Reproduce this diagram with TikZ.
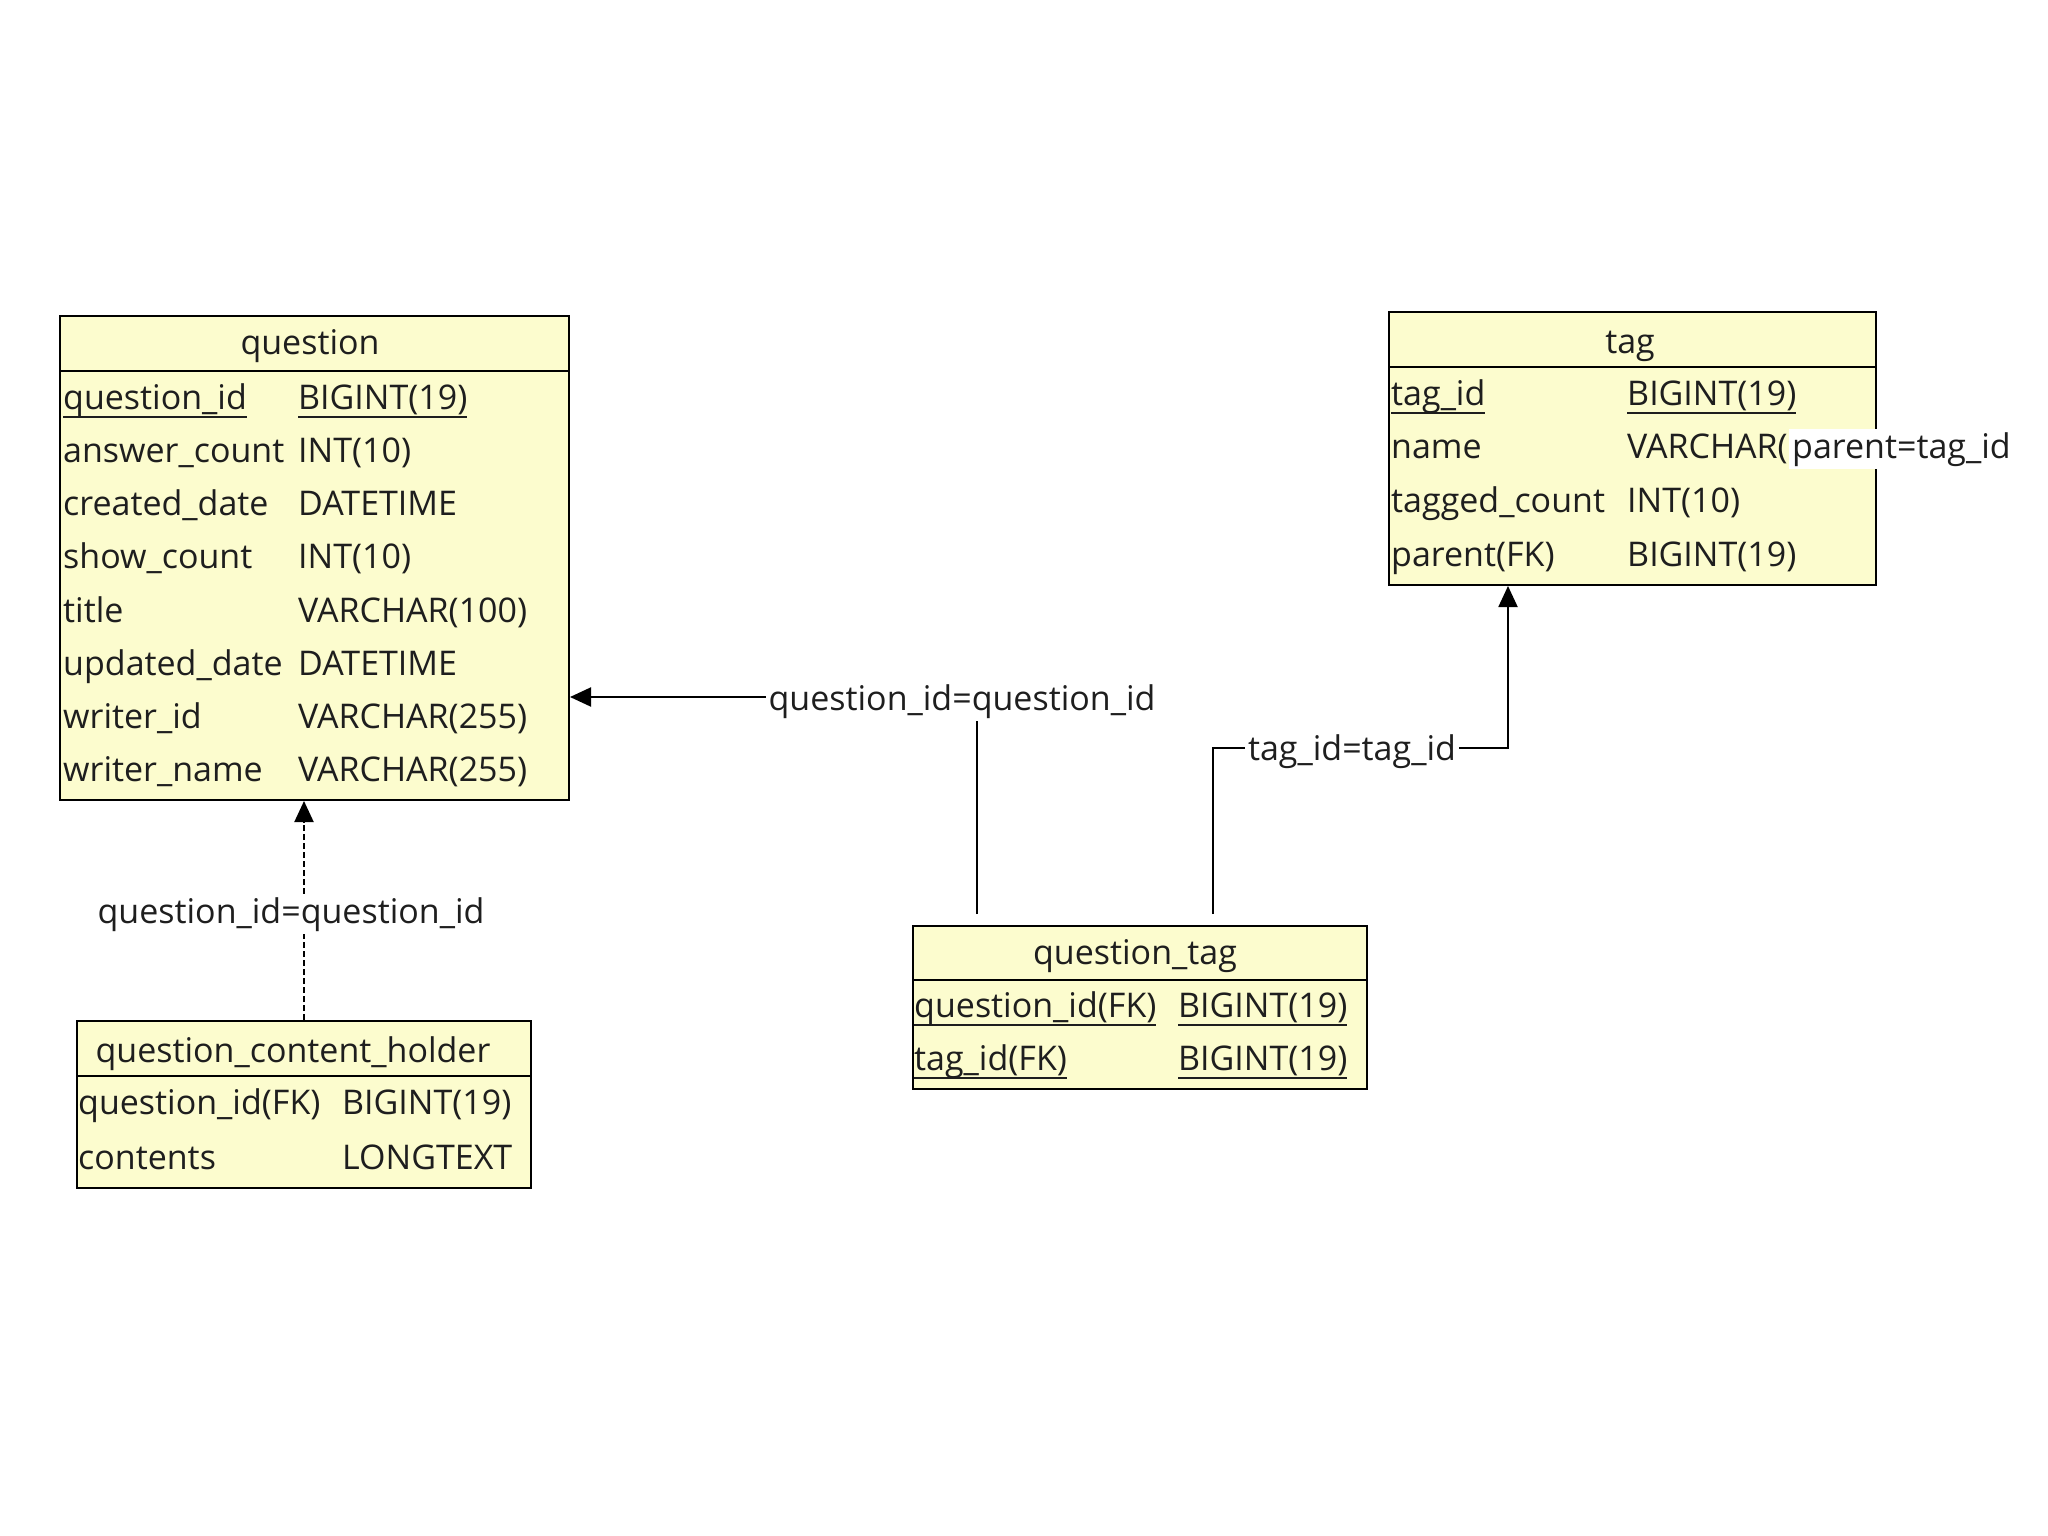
\documentclass[tikz,border=0pt]{standalone}
\usepackage{fontspec}
\setmainfont{Open Sans}
\usetikzlibrary{arrows.meta}
\definecolor{tblfill}{RGB}{252,252,206}
\definecolor{ink}{RGB}{30,30,30}
\newcommand\ulin[1]{\setbox0\hbox{#1}\rlap{\vrule height -7pt depth 9pt width \wd0}\box0}
\tikzset{
  tbl/.style={draw=black, line width=2pt, fill=tblfill, inner sep=0pt, anchor=north west},
  fld/.style={font=\fontsize{34}{40}\selectfont, text=ink, inner sep=0pt, anchor=base west},
  ttl/.style={fld, anchor=base},
  sepline/.style={line width=2pt},
  rel/.style={line width=2pt, -{Triangle[length=21pt,width=19pt]}},
  rlab/.style={fld, fill=white, inner sep=3pt, anchor=base},
}
\begin{document}
\begin{tikzpicture}[x=1pt,y=-1pt]
\fill[white] (0,0) rectangle (2048,1536);
\useasboundingbox (0,0) rectangle (2048,1536);

% question
\node[tbl, minimum width=509pt, minimum height=484pt] (question) at (59,315) {};
\draw[sepline] ([yshift=-56pt]question.north west) -- ([yshift=-56pt]question.north east);
\node[ttl] (question-title) at (310,354) {question};
\node[fld] (q-n1) at (63,409) {\ulin{question\_id}};
\node[fld] (q-t1) at (298,409) {\ulin{BIGINT(19)}};
\node[fld] (q-n2) at (63,462) {answer\_count};
\node[fld] (q-t2) at (298,462) {INT(10)};
\node[fld] (q-n3) at (63,515) {created\_date};
\node[fld] (q-t3) at (298,515) {DATETIME};
\node[fld] (q-n4) at (63,568) {show\_count};
\node[fld] (q-t4) at (298,568) {INT(10)};
\node[fld] (q-n5) at (63,622) {title};
\node[fld] (q-t5) at (298,622) {VARCHAR(100)};
\node[fld] (q-n6) at (63,675) {updated\_date};
\node[fld] (q-t6) at (298,675) {DATETIME};
\node[fld] (q-n7) at (63,728) {writer\_id};
\node[fld] (q-t7) at (298,728) {VARCHAR(255)};
\node[fld] (q-n8) at (63,781) {writer\_name};
\node[fld] (q-t8) at (298,781) {VARCHAR(255)};

% tag
\node[tbl, minimum width=487pt, minimum height=273pt] (tag) at (1388,311) {};
\draw[sepline] ([yshift=-56pt]tag.north west) -- ([yshift=-56pt]tag.north east);
\node[ttl] (tag-title) at (1630,353) {tag};
\node[fld] (t-n1) at (1391,405) {\ulin{tag\_id}};
\node[fld] (t-t1) at (1627,405) {\ulin{BIGINT(19)}};
\node[fld] (t-n2) at (1391,458) {name};
\node[fld] (t-t2) at (1627,458) {VARCHAR(};
\node[fld] (t-n3) at (1391,512) {tagged\_count};
\node[fld] (t-t3) at (1627,512) {INT(10)};
\node[fld] (t-n4) at (1391,566) {parent(FK)};
\node[fld] (t-t4) at (1627,566) {BIGINT(19)};

% question_tag
\node[tbl, minimum width=454pt, minimum height=163pt] (qtag) at (912,925) {};
\draw[sepline] ([yshift=-55pt]qtag.north west) -- ([yshift=-55pt]qtag.north east);
\node[ttl] (qtag-title) at (1135,964) {question\_tag};
\node[fld] (qt-n1) at (914,1017) {\ulin{question\_id(FK)}};
\node[fld] (qt-t1) at (1178,1017) {\ulin{BIGINT(19)}};
\node[fld] (qt-n2) at (914,1070) {\ulin{tag\_id(FK)}};
\node[fld] (qt-t2) at (1178,1070) {\ulin{BIGINT(19)}};

% question_content_holder
\node[tbl, minimum width=454pt, minimum height=167pt] (holder) at (76,1020) {};
\draw[sepline] ([yshift=-56pt]holder.north west) -- ([yshift=-56pt]holder.north east);
\node[ttl] (holder-title) at (293,1062) {question\_content\_holder};
\node[fld] (h-n1) at (78,1114) {question\_id(FK)};
\node[fld] (h-t1) at (342,1114) {BIGINT(19)};
\node[fld] (h-n2) at (78,1169) {contents};
\node[fld] (h-t2) at (342,1169) {LONGTEXT};

% connectors
\coordinate (qtA) at (977,914);
\coordinate (cornerA) at (977,697);
\draw[rel] (qtA) -- (cornerA) -- (question.east |- cornerA);
\node[rlab] (labA) at (962,710) {question\_id=question\_id};

\coordinate (qtB) at (1213,914);
\coordinate (bendB) at (1508,748);
\draw[rel] (qtB) |- (bendB) -- (tag.south -| bendB);
\node[rlab] (labB) at (1352,760) {tag\_id=tag\_id};

\draw[rel, dash pattern=on 6pt off 3pt] (holder.north) -- (question.south -| holder.north);
\node[rlab] (labC) at (291,923) {question\_id=question\_id};

\node[fld, fill=white, inner sep=3pt] (labP) at (1789,458) {parent=tag\_id};
\end{tikzpicture}
\end{document}
